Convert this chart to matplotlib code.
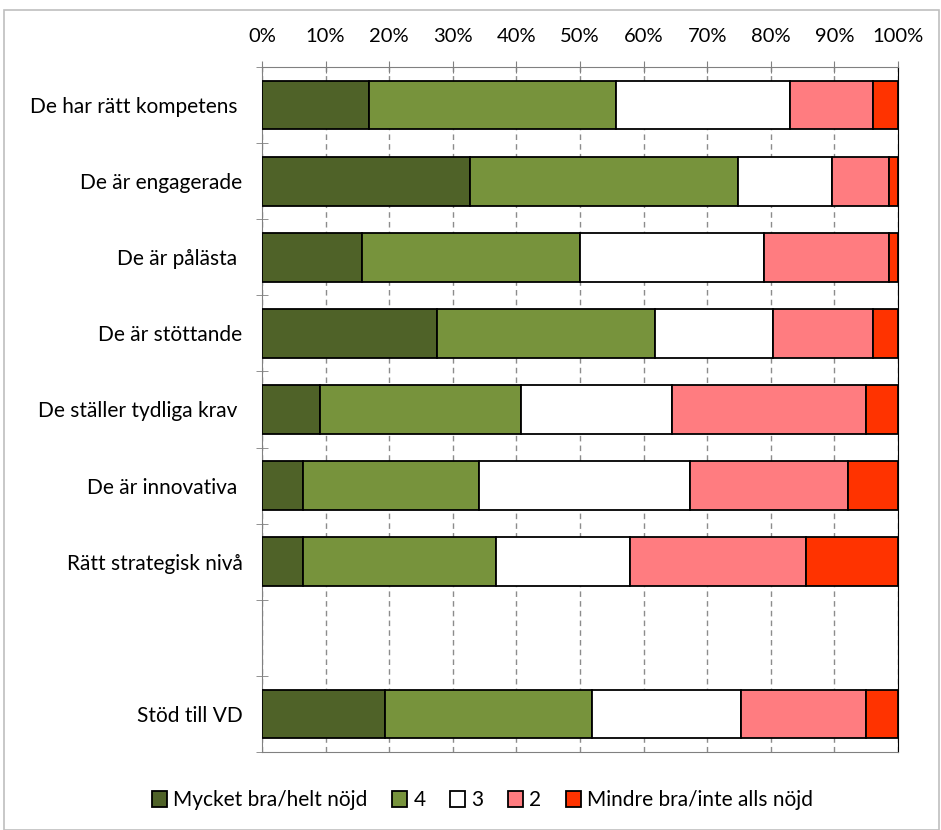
import matplotlib
matplotlib.use("Agg")
import matplotlib.pyplot as plt
from matplotlib.patches import Rectangle
import numpy as np

plt.rcParams['font.family'] = ['Lato', 'DejaVu Sans']

categories = [
    "De har rätt kompetens ",
    "De är engagerade",
    "De är pålästa ",
    "De är stöttande",
    "De ställer tydliga krav ",
    "De är innovativa ",
    "Rätt strategisk nivå",
    "",
    "Stöd till VD",
]

series_names = ["Mycket bra/helt nöjd", "4", "3", "2", "Mindre bra/inte alls nöjd"]

# percent shares per category (empty slot = None)
s5 = [16.8, 32.7, 15.7, 27.5, 9.1, 6.4, 6.4, None, 19.3]
s4 = [38.9, 42.1, 34.3, 34.3, 31.6, 27.7, 30.4, None, 32.6]
s3 = [27.3, 14.8, 28.9, 18.5, 23.8, 33.2, 21.1, None, 23.4]
s2 = [13.1, 9.0, 19.7, 15.8, 30.5, 24.8, 27.6, None, 19.7]
s1 = [3.9, 1.4, 1.4, 3.9, 5.0, 7.9, 14.5, None, 5.0]

colors = ["#4F6228", "#77933C", "#FFFFFF", "#FF7C80", "#FF3300"]

fig = plt.figure(figsize=(9.41, 8.3), dpi=100)
fig.patches.append(Rectangle((0.004, 0.0), 0.994, 0.988, transform=fig.transFigure,
                             fill=False, edgecolor="#BFBFBF", linewidth=1.2))
ax = fig.add_axes([0.2784, 0.094, 0.6759, 0.8253])

n = len(categories)
y = np.arange(n)
left = np.zeros(n)
series = [s5, s4, s3, s2, s1]
for vals, col, name in zip(series, colors, series_names):
    v = np.array([np.nan if x is None else x for x in vals], dtype=float)
    mask = ~np.isnan(v)
    ax.barh(y[mask], v[mask], left=left[mask], height=0.64, color=col,
            edgecolor="black", linewidth=1.3, label=name, zorder=3)
    left[mask] += v[mask]

ax.set_xlim(0, 100)
ax.set_ylim(n - 0.5, -0.5)
ax.xaxis.tick_top()
ax.set_xticks(np.arange(0, 101, 10))
ax.set_xticklabels([f"{t}%" for t in range(0, 101, 10)], fontsize=14.5)
ax.tick_params(axis='x', direction='inout', length=8, color="#808080", pad=12)
ax.grid(axis='x', linestyle=(0, (4, 3)), color="#8C8C8C", linewidth=1.0, zorder=0)

ax.set_yticks(y)
ax.set_yticklabels(categories, fontsize=15)
ax.tick_params(axis='y', length=0, pad=14)
ax.set_yticks(np.arange(-0.5, n, 1.0), minor=True)
ax.tick_params(axis='y', which='minor', direction='inout', length=8, color="#808080")

for side in ["top", "left", "bottom"]:
    ax.spines[side].set_color("#808080")
ax.spines["right"].set_color("#000000")

handles, labels = ax.get_legend_handles_labels()
fig.legend(handles, labels, loc="center", bbox_to_anchor=(0.513, 0.036), ncol=5,
           frameon=False, fontsize=15, handlelength=0.7, handleheight=0.8,
           handletextpad=0.3, columnspacing=1.2)

fig.savefig("out.png", dpi=100)
